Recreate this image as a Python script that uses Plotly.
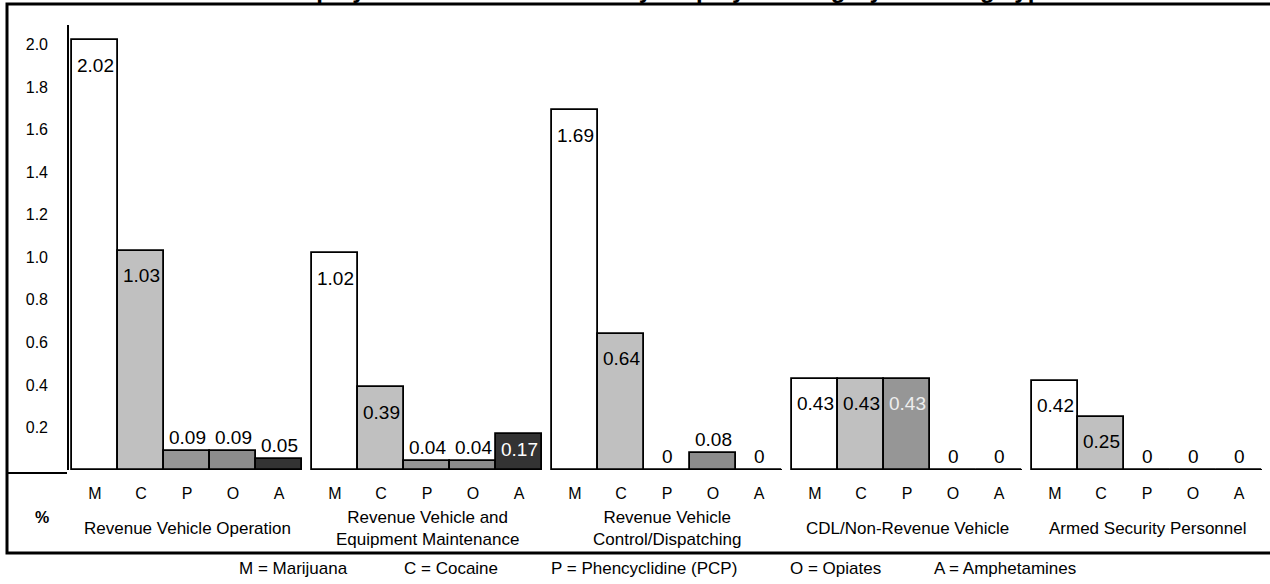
import plotly.graph_objects as go

# ---------------- data ----------------
categories = [
    "Revenue Vehicle Operation",
    "Revenue Vehicle and<br>Equipment Maintenance",
    "Revenue Vehicle<br>Control/Dispatching",
    "CDL/Non-Revenue Vehicle",
    "Armed Security Personnel",
]
drug_codes = ["M", "C", "P", "O", "A"]
marijuana = [2.02, 1.02, 1.69, 0.43, 0.42]
cocaine = [1.03, 0.39, 0.64, 0.43, 0.25]
pcp = [0.09, 0.04, 0.00, 0.43, 0.00]
opiates = [0.09, 0.04, 0.08, 0.00, 0.00]
amphetamines = [0.05, 0.17, 0.00, 0.00, 0.00]
y_ticks = [0.2, 0.4, 0.6, 0.8, 1.0, 1.2, 1.4, 1.6, 1.8, 2.0]
legend_items = ["M = Marijuana", "C = Cocaine", "P = Phencyclidine (PCP)",
                "O = Opiates", "A = Amphetamines"]
title_text = "Employee Positive Test Rates by Employee Category and Drug Type"

series = [marijuana, cocaine, pcp, opiates, amphetamines]

# ---------------- style / layout ----------------
W, H = 1270, 584
L, R, T, B = 68, 1266, 36, 470            # plot area in pixels
fill_colors = ["#ffffff", "#c0c0c0", "#969696", "#8c8c8c", "#333333"]
inside_text_colors = ["#000000", "#000000", "#eeeeee", "#000000", "#ffffff"]
FONT = "Liberation Sans, Arial, sans-serif"
GAP = 10 / 46.0                           # gap between groups, in bar widths
Y_MAX = 2.04
X_MIN = -4 / 46.0
X_MAX = 5 * 5 + 4 * GAP + 4 / 46.0
px_per_unit_y = (B - T) / Y_MAX


def px2x(px):
    return (px - L) / (R - L)


def px2y(py):
    return (B - py) / (B - T)


def bar_x(g, j):
    return g * (5 + GAP) + j + 0.5


fig = go.Figure()
annotations = []

for j, (code, vals) in enumerate(zip(drug_codes, series)):
    xs = [bar_x(g, j) for g in range(len(categories))]
    fig.add_trace(go.Bar(
        x=xs, y=vals, width=[1.0] * len(vals), name=code,
        marker=dict(color=fill_colors[j], line=dict(color="#000000", width=1.8)),
        showlegend=False, hoverinfo="x+y",
    ))
    for xv, v in zip(xs, vals):
        label = f"{v:g}" if v != 0 else "0"
        h = v * px_per_unit_y
        if v >= 0.15:
            shift = min(25, h / 2 - 2)
            annotations.append(dict(
                x=xv, y=v, xref="x", yref="y", text=label, showarrow=False,
                yanchor="middle", xanchor="center", yshift=-shift,
                font=dict(family=FONT, size=19, color=inside_text_colors[j])))
        else:
            annotations.append(dict(
                x=xv, y=v, xref="x", yref="y", text=label, showarrow=False,
                yanchor="bottom", xanchor="center", yshift=1,
                font=dict(family=FONT, size=19, color="#000000")))

shapes = []
# group baselines
for g in range(len(categories)):
    shapes.append(dict(type="line", xref="x", yref="y",
                       x0=bar_x(g, 0) - 0.5, x1=bar_x(g, 4) + 0.5, y0=0, y1=0,
                       line=dict(color="#000000", width=2)))
# vertical axis line
shapes.append(dict(type="line", xref="paper", yref="paper",
                   x0=0, x1=0, y0=0, y1=px2y(25),
                   line=dict(color="#000000", width=2)))
# short horizontal line lower left
shapes.append(dict(type="line", xref="paper", yref="paper",
                   x0=px2x(7), x1=px2x(67), y0=px2y(473), y1=px2y(473),
                   line=dict(color="#000000", width=2)))
# outer frame
shapes.append(dict(type="rect", xref="paper", yref="paper",
                   x0=px2x(7), x1=px2x(1276), y0=px2y(553), y1=px2y(4),
                   line=dict(color="#000000", width=3), fillcolor="rgba(0,0,0,0)"))

# category labels
for g, cat in enumerate(categories):
    annotations.append(dict(
        x=(bar_x(g, 0) + bar_x(g, 4)) / 2, y=px2y(528), xref="x", yref="paper",
        text=cat, showarrow=False, xanchor="center", yanchor="middle",
        font=dict(family=FONT, size=17, color="#000000")))

# percent sign
annotations.append(dict(x=px2x(42), y=px2y(517), xref="paper", yref="paper",
                        text="<b>%</b>", showarrow=False, xanchor="center",
                        yanchor="middle", font=dict(family=FONT, size=16, color="#000000")))

# legend text row
for txt, cx in zip(legend_items, [293, 451, 644, 835, 1005]):
    annotations.append(dict(x=px2x(cx), y=px2y(568), xref="paper", yref="paper",
                            text=txt, showarrow=False, xanchor="center",
                            yanchor="middle",
                            font=dict(family=FONT, size=17, color="#000000")))

# title (cut off at the top of the page in the reference)
annotations.append(dict(x=px2x(667), y=px2y(5), xref="paper", yref="paper",
                        text=f"<b>{title_text}</b>", showarrow=False,
                        xanchor="center", yanchor="bottom",
                        font=dict(family=FONT, size=24, color="#000000")))

tick_x = [bar_x(g, j) for g in range(len(categories)) for j in range(5)]
tick_t = [c for _ in categories for c in drug_codes]

fig.update_layout(
    template="none",
    width=W, height=H,
    margin=dict(l=L, r=W - R, t=T, b=H - B, pad=0, autoexpand=False),
    paper_bgcolor="#ffffff", plot_bgcolor="#ffffff",
    barmode="overlay", bargap=0,
    shapes=shapes, annotations=annotations,
    xaxis=dict(range=[X_MIN, X_MAX], showgrid=False, zeroline=False,
               showline=False, ticks="", tickvals=tick_x, ticktext=tick_t,
               tickfont=dict(family=FONT, size=16, color="#000000"),
               ticklabelstandoff=12, automargin=False, fixedrange=True),
    yaxis=dict(range=[0, Y_MAX], showgrid=False, zeroline=False,
               showline=False, ticks="", tickvals=y_ticks,
               ticktext=[f"{v:.1f}" for v in y_ticks],
               tickfont=dict(family=FONT, size=16, color="#000000"),
               ticklabelstandoff=19, automargin=False, fixedrange=True),
)

# remove the default 8px page margin so the figure starts at the window corner
fig.write_html(
    "out.html",
    config={"displayModeBar": False},
    post_script="document.body.style.margin='0';document.body.style.overflow='hidden';",
)
